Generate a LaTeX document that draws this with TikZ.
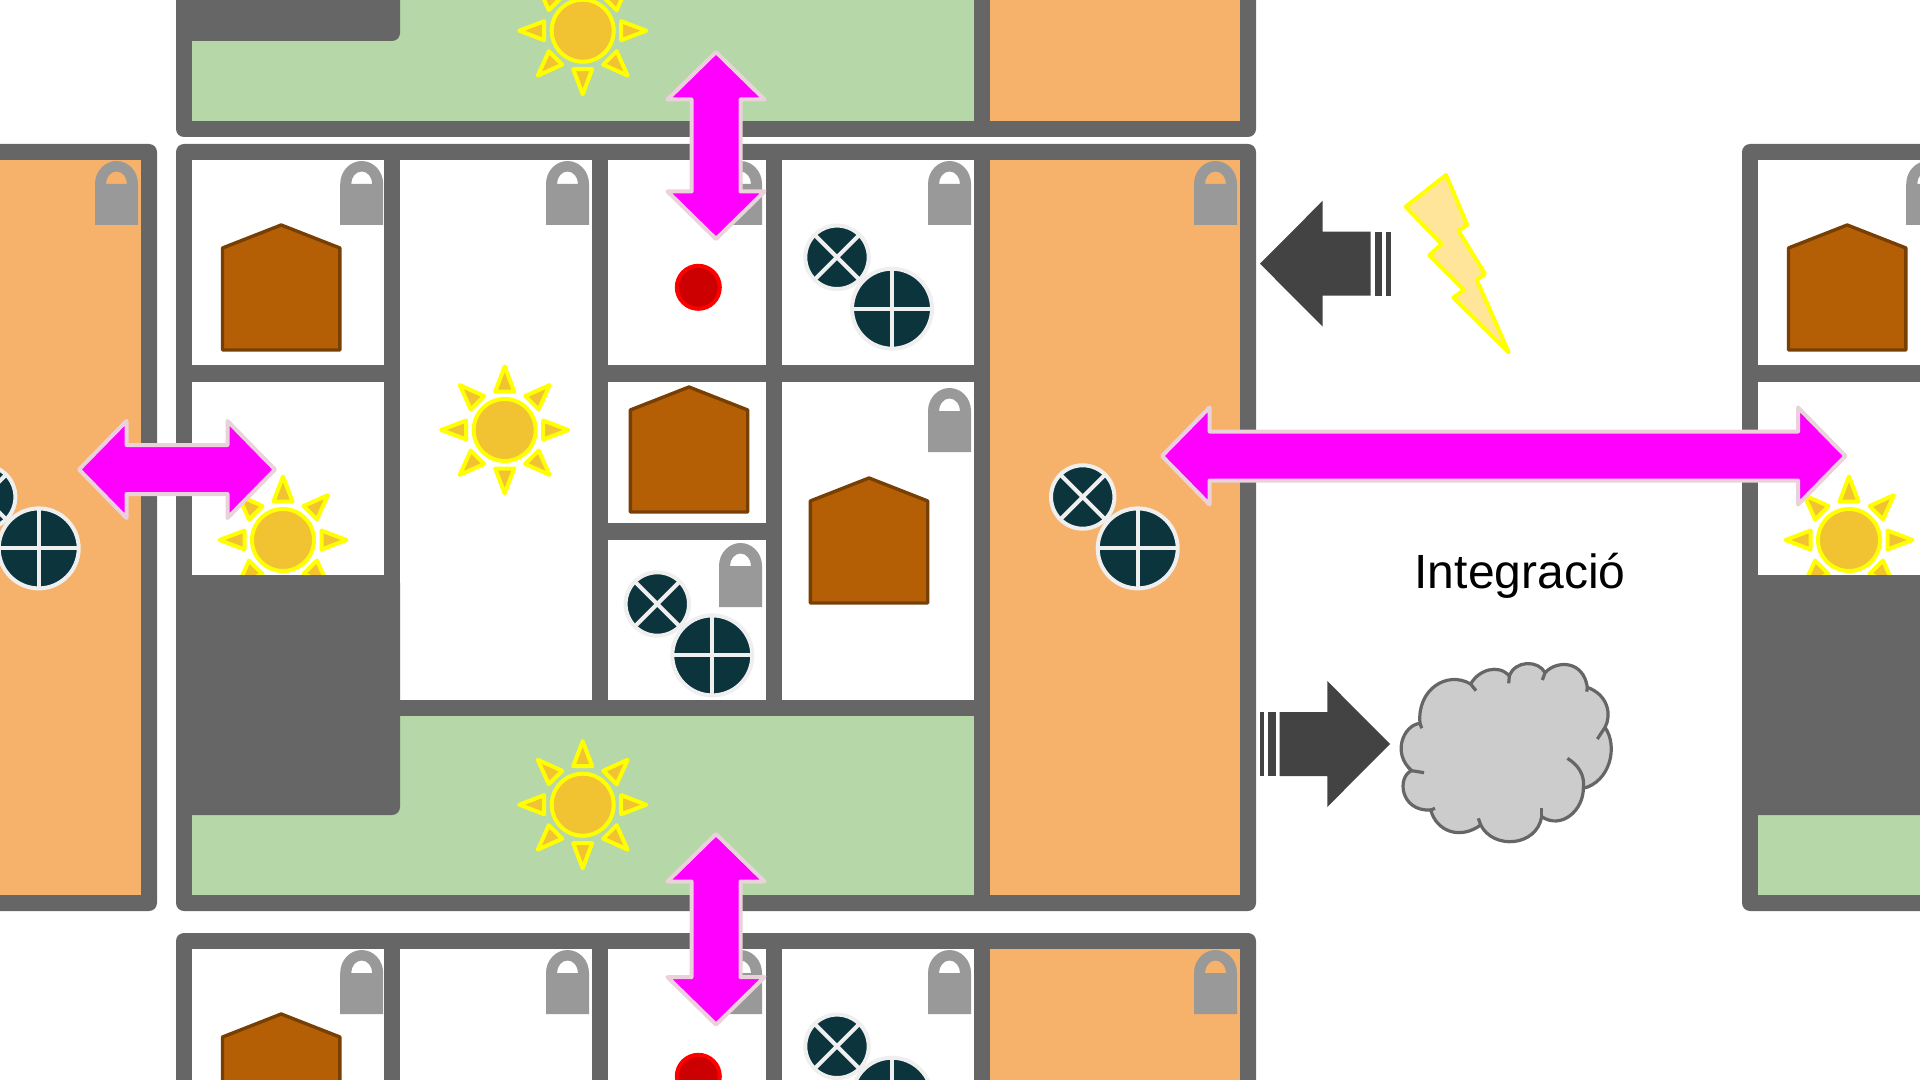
\documentclass[tikz,border=0pt]{standalone}
\usepackage{fontspec}
\setmainfont{Liberation Sans}
\definecolor{wallgray}{HTML}{666666}
\definecolor{roomgreen}{HTML}{B6D7A8}
\definecolor{roomorange}{HTML}{F6B26B}
\definecolor{housefill}{HTML}{B45F06}
\definecolor{housedraw}{HTML}{783F04}
\definecolor{sunfill}{HTML}{F1C232}
\definecolor{sundraw}{HTML}{FFFF00}
\definecolor{lockgray}{HTML}{999999}
\definecolor{hvacfill}{HTML}{0C343D}
\definecolor{hvacdraw}{HTML}{EFEFEF}
\definecolor{swapfill}{HTML}{FF00FF}
\definecolor{swapdraw}{HTML}{EAD1DC}
\definecolor{darkarrowfill}{HTML}{434343}
\definecolor{boltfill}{HTML}{FFE599}
\definecolor{cloudfill}{HTML}{CCCCCC}
\definecolor{dotfill}{HTML}{CC0000}
\definecolor{dotdraw}{HTML}{FF0000}
\tikzset{
  sunline/.style={fill=sunfill,draw=sundraw,line width=2pt,line join=round},
  hvacline/.style={draw=hvacdraw,line width=2pt},
  pics/lockicon/.style={code={
    \fill[lockgray,even odd rule] (-21.5,41) -- (-21.5,0) arc[start angle=180,end angle=360,x radius=21.5,y radius=23] -- (21.5,41) -- cycle
      (-10.5,0) arc[start angle=180,end angle=360,x radius=10.5,y radius=12.5] -- cycle;
  }},
  pics/houseicon/.style={code={
    \draw[fill=housefill,draw=housedraw,line width=1.7pt,line join=round] (0,0) -- (58.7,23) -- (58.7,125) -- (-58.7,125) -- (-58.7,23) -- cycle;
  }},
  pics/sunicon/.style={code={
    \foreach \a in {0,45,...,315} {
      \draw[sunline,rotate=\a] (0,-63.5) -- (9.5,-38.5) -- (-9.5,-38.5) -- cycle;
    }
    \draw[sunline] (0,0) circle (31);
  }},
  pics/hvacicon/.style={code={
    \fill[hvacfill] (0,0) circle (31.7);
    \draw[hvacline] (-22.4,-22.4) -- (22.4,22.4) (-22.4,22.4) -- (22.4,-22.4);
    \draw[hvacline] (0,0) circle (31.7);
    \fill[hvacfill] (55,51.4) circle (40);
    \draw[hvacline] (15,51.4) -- (95,51.4) (55,11.4) -- (55,91.4);
    \draw[hvacline] (55,51.4) circle (40);
  }},
  pics/swaparrow/.style={code={
    \draw[fill=swapfill,draw=swapdraw,line width=2pt,line join=round] (-#1,0) -- (-#1+47.5,-48.5) -- (-#1+47.5,-24.5) -- (#1-47.5,-24.5)
      -- (#1-47.5,-48.5) -- (#1,0) -- (#1-47.5,48.5) -- (#1-47.5,24.5) -- (-#1+47.5,24.5) -- (-#1+47.5,48.5) -- cycle;
  }},
  pics/darkarrow/.style={code={
    \fill[darkarrowfill] (0,0) -- (-62.7,-63) -- (-62.7,-32) -- (-110.5,-32) -- (-110.5,32) -- (-62.7,32) -- (-62.7,63) -- cycle;
    \fill[darkarrowfill] (-122.4,-32) rectangle (-114.5,32);
    \fill[darkarrowfill] (-130.5,-32) rectangle (-126.3,32);
  }},
}
\begin{document}
\begin{tikzpicture}[x=0.5pt,y=-0.5pt]
    \path[use as bounding box] (0,0) rectangle (1920,1080);
    \clip (0,0) rectangle (1920,1080);
    \foreach \sx/\sy in {0/0,1566/0,-1099/0,0/-774,0/789} {
        \begin{scope}[shift={(\sx,\sy)}]
            \fill[wallgray,rounded corners=4pt] (176,144) rectangle (1256,911);
            \foreach \xa/\ya/\xb/\yb in {191.5/160/384/365,191.5/382/384/590,400/160/592/700,608/160/766/365,608/382/766/523,608/540/766/700,782/160/974/365,782/382/974/700} {
                \fill[white] (\xa,\ya) rectangle (\xb,\yb);
            }
            \fill[roomorange] (990,160) rectangle (1240,895);
            \fill[roomgreen] (191.5,716) rectangle (974,895);
            \pic at (283,540) {sunicon};
            \fill[wallgray,rounded corners=4pt] (176,575) rectangle (400,815);
            \foreach \lx/\ly in {361.7/184,567.5/184,740.5/184,949.5/184,1215.5/184,949.5/411,740.5/566} {
                \pic at (\lx,\ly) {lockicon};
            }
            \foreach \hx/\hy in {281.2/225,689/387,869/478} {
                \pic at (\hx,\hy) {houseicon};
            }
            \pic at (504.7,430) {sunicon};
            \pic at (582.7,804.7) {sunicon};
            \foreach \vx/\vy in {837/257.3,1082.7/497,657.3/604} {
                \pic at (\vx,\vy) {hvacicon};
            }
            \draw[fill=dotfill,draw=dotdraw,line width=2pt] (698.3,287.3) circle (21.5);
        \end{scope}
    }
    \pic at (1260,263.7) [rotate=180] {darkarrow};
    \pic at (1390,744) {darkarrow};
    \draw[fill=boltfill,draw=sundraw,line width=2pt,line join=round] (1446,175) -- (1467.3,225) -- (1458.3,230.7) -- (1485,274) -- (1476.7,280) -- (1508.7,352.3)
        -- (1453.3,297.7) -- (1464,290) -- (1429.3,255) -- (1441.7,244.3) -- (1405.7,206.7) -- cycle;
    \begin{scope}[shift={(1240,640)},x=0.16667pt,y=-0.16667pt]
        \draw[fill=cloudfill,draw=wallgray,line width=1.6pt,line join=round] (540,250) .. controls (530,150) and (620,90) .. (692,132)
            .. controls (715,90) and (775,70) .. (808,108) .. controls (825,60) and (895,60) .. (915,98)
            .. controls (950,60) and (1030,60) .. (1042,142) .. controls (1105,165) and (1115,225) .. (1095,262)
            .. controls (1135,320) and (1110,425) .. (1030,445) .. controls (1030,510) and (965,570) .. (905,530)
            .. controls (890,620) and (760,630) .. (722,555) .. controls (660,600) and (590,575) .. (572,510)
            .. controls (480,515) and (470,410) .. (515,392) .. controls (455,340) and (490,255) .. cycle;
        \foreach \ax/\ay/\bx/\by in {692/132/708/152,808/108/806/130,915/98/907/120,1042/142/1040/155,1095/262/1072/297,905/530/905/505,722/555/715/535,572/510/585/505,515/392/552/398,540/250/545/265} {
            \draw[wallgray,line width=1.6pt] (\ax,\ay) -- (\bx,\by);
        }
        \draw[wallgray,line width=1.6pt] (1030,445) .. controls (1035,405) and (1015,375) .. (982,355);
    \end{scope}
    \node[anchor=base,inner sep=0pt,font=\fontsize{24}{28}\selectfont] (integracio) at (1520,588) {Integració};
    \pic at (716,145.5) [rotate=90] {swaparrow=93.5};
    \pic at (716,929.3) [rotate=90] {swaparrow=95.3};
    \pic at (177,469.5) {swaparrow=98};
    \pic at (1503.75,456) {swaparrow=341.75};
\end{tikzpicture}
\end{document}
